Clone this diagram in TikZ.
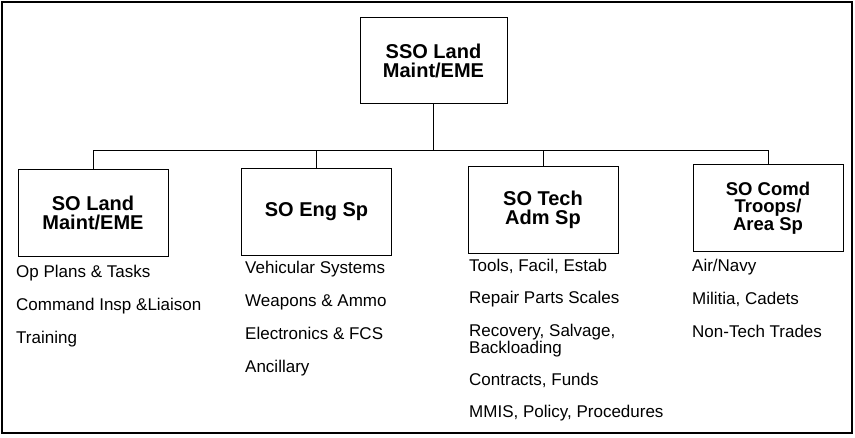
\documentclass[tikz,border=0pt]{standalone}
\usepackage{fontspec}
\setmainfont{Liberation Sans}

\tikzset{
    unit/.style={draw, line width=0.8pt, minimum width=150pt, minimum height=87pt,
        align=center, inner sep=2pt, font=\bfseries\fontsize{20}{19}\selectfont},
    duty/.style={anchor=base west, inner sep=0pt, align=left,
        font=\fontsize{17}{17}\selectfont},
    link/.style={line width=0.8pt}
}

\begin{document}
\begin{tikzpicture}[x=1pt, y=-1pt]
    \useasboundingbox (0,0) rectangle (855,437);
    % Outer frame
    \draw[line width=1.2pt] (2,2) rectangle (852,433);

    % Top box
    \node[unit, minimum width=147pt, minimum height=86pt] (top) at (433.5,60.5) {SSO Land\\Maint/EME};

    % Second row of boxes
    \node[unit] (a) at (93,212.5) {SO Land\\Maint/EME};
    \node[unit] (b) at (316.5,211.5) {SO Eng Sp};
    \node[unit] (c) at (543,210) {SO Tech\\Adm Sp};
    \node[unit, font=\bfseries\fontsize{18.5}{17.5}\selectfont] (d) at (768,208) {SO Comd\\Troops/\\Area Sp};

    % Connectors
    \coordinate (bus) at (0,150);
    \draw[link] (top.south) -- (top.south |- bus);
    \draw[link] (a.north) -- (a.north |- bus) -- (d.north |- bus) -- (d.north);
    \draw[link] (b.north) -- (b.north |- bus);
    \draw[link] (c.north) -- (c.north |- bus);

    % First column
    \foreach \t [count=\i] in {Op Plans \& Tasks, Command Insp \&Liaison, Training}
        \node[duty] (a\i) at (16,{244+33*\i}) {\t};

    % Second column
    \foreach \t [count=\i] in {Vehicular Systems, Weapons \& Ammo, Electronics \& FCS, Ancillary}
        \node[duty] (b\i) at (245,{240+33*\i}) {\t};

    % Third column
    \node[duty] (c1) at (469,271) {Tools, Facil, Estab};
    \node[duty] (c2) at (469,303) {Repair Parts Scales};
    \node[duty] (c3) at (469,353) {Recovery, Salvage,\\Backloading};
    \node[duty] (c4) at (469,385) {Contracts, Funds};
    \node[duty] (c5) at (469,417) {MMIS, Policy, Procedures};

    % Fourth column
    \foreach \t [count=\i] in {Air/Navy, {Militia, Cadets}, Non-Tech Trades}
        \node[duty] (d\i) at (692,{238+33*\i}) {\t};
\end{tikzpicture}
\end{document}
